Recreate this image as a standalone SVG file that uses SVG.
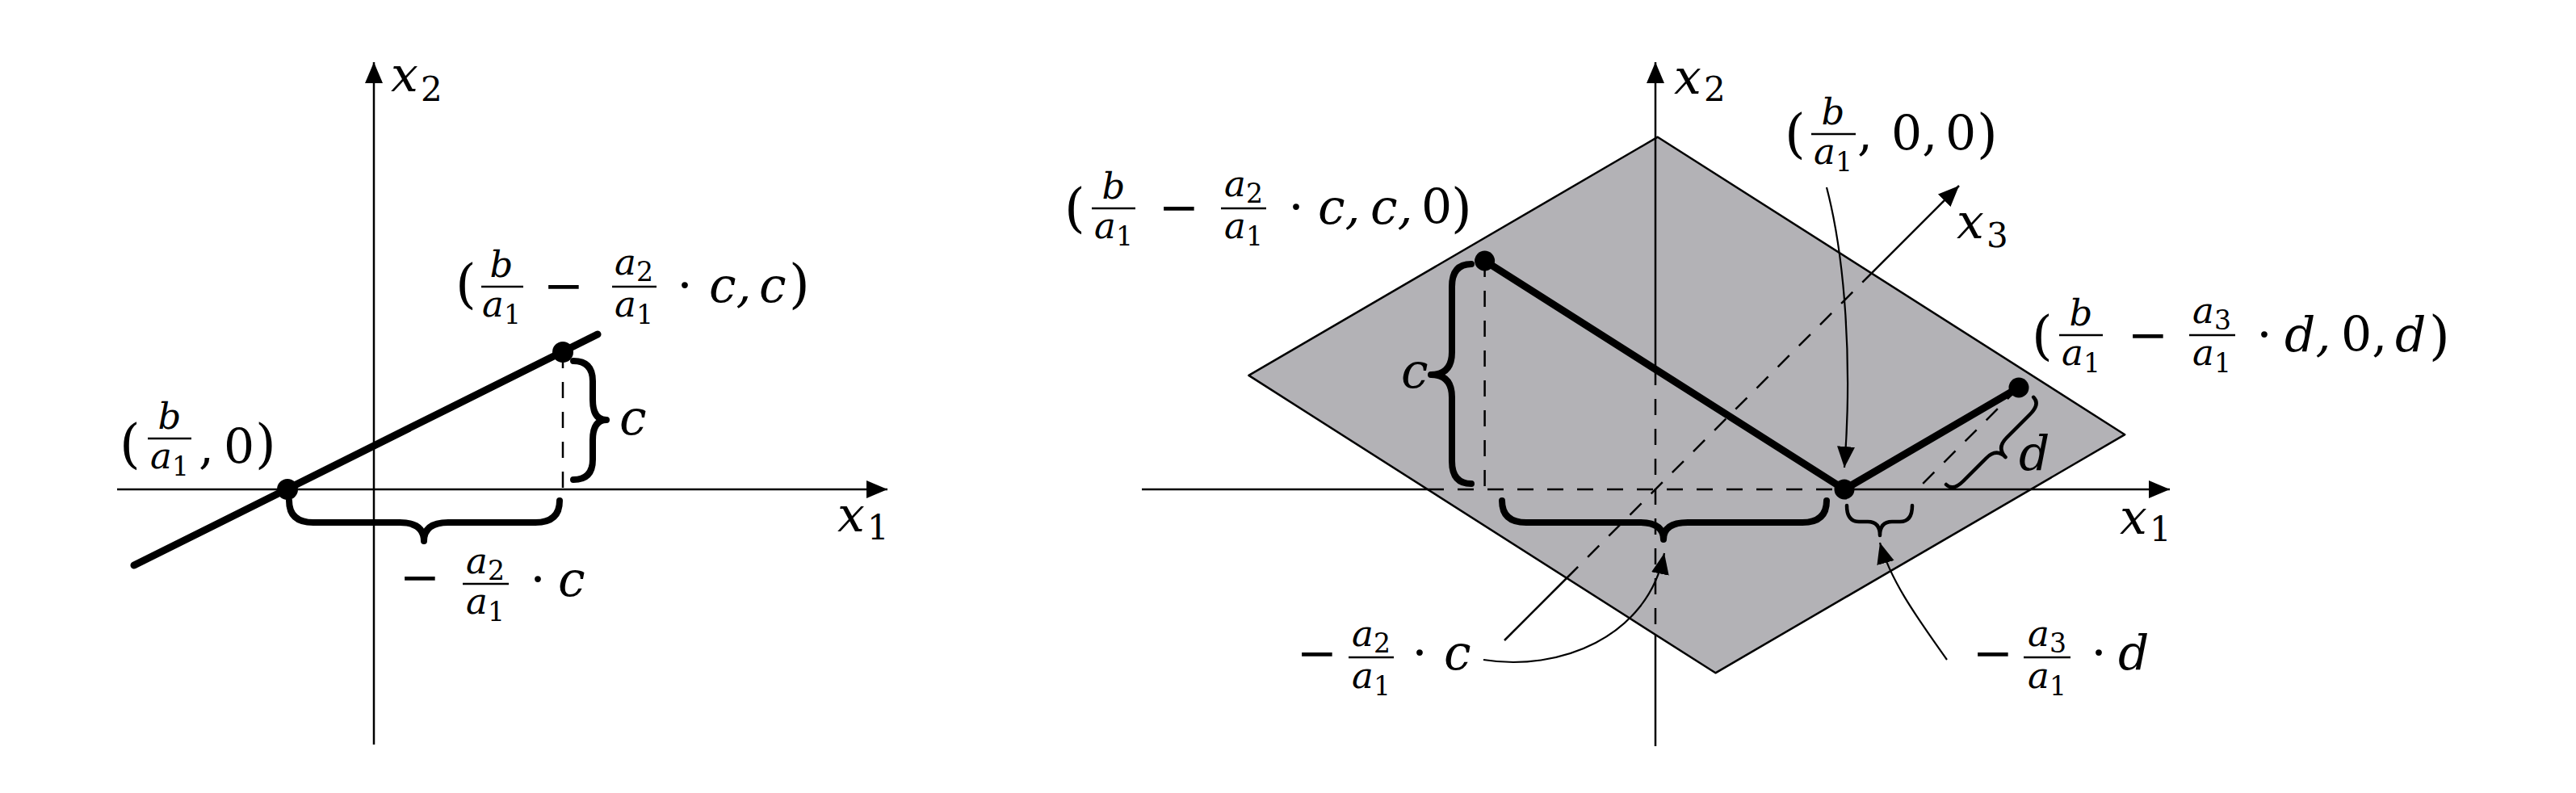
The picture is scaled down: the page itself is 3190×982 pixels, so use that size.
<svg xmlns="http://www.w3.org/2000/svg" width="3190" height="982" viewBox="0 0 3190 982">
<style>
text{font-family:'DejaVu Serif','Liberation Serif',serif;fill:#000}
.M{font-size:60px}
.P{font-size:66px}
.F{font-size:45px}
.S{font-size:42px}
.s{font-size:33px}
.i{font-style:italic}
.ax{stroke:#000;stroke-width:2.5;fill:none}
.dash{stroke:#000;stroke-width:2.5;fill:none;stroke-dasharray:20 17}
.thick{stroke:#000;stroke-width:9;fill:none;stroke-linecap:round}
.br{stroke:#000;stroke-width:8;fill:none;stroke-linecap:round;stroke-linejoin:round}
.brs{stroke:#000;stroke-width:4.5;fill:none;stroke-linecap:round;stroke-linejoin:round}
.cv{stroke:#000;stroke-width:2.2;fill:none}
.bar{stroke:#000;stroke-width:2.5}
</style>
<defs>
<marker id="ah" markerUnits="userSpaceOnUse" markerWidth="28" markerHeight="24" refX="26" refY="11" orient="auto">
<path d="M0,0 L26,11 L0,22 z" fill="#000"/>
</marker>
</defs>
<rect width="3190" height="982" fill="#fff"/>

<g id="plane">
<polygon points="2052.8,169.7 2631.3,538.2 2124.4,833.3 1546.4,464.9" fill="#b3b2b6" stroke="#000" stroke-width="2.5" stroke-linejoin="round"/>
</g>

<g id="connectors">
<line class="ax" x1="463" y1="922" x2="463" y2="77" marker-end="url(#ah)"/>
<line class="ax" x1="145" y1="606" x2="1099" y2="606" marker-end="url(#ah)"/>
<line class="dash" x1="697" y1="436" x2="697" y2="606"/>
<line class="thick" x1="166" y1="700" x2="740" y2="414"/>
<path class="br" d="M358,620 Q358,647 388,647 L495,647 Q525,647 525,670 Q525,647 555,647 L663,647 Q693,647 693,620"/>
<path class="br" stroke-width="7" d="M710,447 Q734,447 734,472 L734,495 Q734,520 751,520 Q734,520 734,545 L734,569 Q734,594 710,594"/>

<line class="ax" x1="1414" y1="606" x2="1768" y2="606"/>
<line class="dash" x1="1768" y1="606" x2="2284" y2="606"/>
<line class="ax" x1="2284" y1="606" x2="2687" y2="606" marker-end="url(#ah)"/>
<line class="ax" x1="2050" y1="457" x2="2050" y2="77" marker-end="url(#ah)"/>
<line class="dash" x1="2050" y1="457" x2="2050" y2="786"/>
<line class="ax" x1="2050" y1="786" x2="2050" y2="924"/>
<line class="ax" x1="1863" y1="793" x2="1940" y2="716"/>
<line class="dash" x1="1940" y1="716" x2="2317.6" y2="338.4"/>
<line class="ax" x1="2317.6" y1="338.4" x2="2426" y2="230" marker-end="url(#ah)"/>
<line class="dash" x1="1838.6" y1="323" x2="1838.6" y2="606"/>
<line class="dash" x1="2500" y1="480" x2="2374" y2="606"/>
<polyline class="thick" points="1838.6,323 2284,606 2500,480" stroke-linejoin="round"/>
<path class="br" d="M1822,327 Q1798,327 1798,355 L1798,436 Q1798,464 1772,464 Q1798,464 1798,492 L1798,571 Q1798,599 1822,599"/>
<path class="br" d="M1860,620 Q1860,647 1890,647 L2030,647 Q2060,647 2060,668 Q2060,647 2090,647 L2232,647 Q2262,647 2262,620"/>
<path class="brs" d="M2287,626 Q2287,646 2302,646 L2313,646 Q2328,646 2328,663 Q2328,646 2343,646 L2353,646 Q2368,646 2368,626"/>
<path class="brs" stroke-width="5" transform="translate(2410,600) rotate(-45)" d="M0,0 Q0,12 18,12 L58,12 Q76,12 76,28 Q76,12 94,12 L135,12 Q153,12 153,0"/>
<path class="cv" d="M2262,232 C2285,320 2294,450 2284,579" marker-end="url(#ah)"/>
<path class="cv" d="M1837,817 C1930,832 2040,790 2061,685" marker-end="url(#ah)"/>
<path class="cv" d="M2411,817 C2378,770 2342,722 2328,672" marker-end="url(#ah)"/>
</g>

<g id="points">
<circle cx="356" cy="606" r="13"/>
<circle cx="697" cy="436" r="13"/>
<circle cx="1838.6" cy="323" r="12.5"/>
<circle cx="2284" cy="606" r="12.5"/>
<circle cx="2500" cy="480" r="12.5"/>
</g>

<g id="axis-labels">
<text class="M i" x="484" y="113">x</text><text class="S" x="521" y="125">2</text>
<text class="M i" x="1037" y="658">x</text><text class="S" x="1074" y="668">1</text>
<text class="M i" x="2073" y="116">x</text><text class="S" x="2110" y="125">2</text>
<text class="M i" x="2625" y="661">x</text><text class="S" x="2662" y="670">1</text>
<text class="M i" x="2423" y="295">x</text><text class="S" x="2460" y="306">3</text>
</g>

<g id="label-b-a1-0">
<text class="P" x="148" y="572">(</text>
<text class="F i" x="210" y="531" text-anchor="middle">b</text>
<line class="bar" x1="183" y1="543" x2="237" y2="543"/>
<text class="F" x="210" y="580" text-anchor="middle"><tspan class="i">a</tspan><tspan class="s" dy="9">1</tspan></text>
<text class="M" x="246" y="574">,</text>
<text class="M" x="277" y="574">0</text>
<text class="P" x="316" y="572">)</text>
</g>

<g id="label-point-c">
<text class="P" x="564" y="374">(</text>
<text class="F i" x="621" y="343" text-anchor="middle">b</text>
<line class="bar" x1="596" y1="355" x2="648" y2="355"/>
<text class="F" x="621" y="392" text-anchor="middle"><tspan class="i">a</tspan><tspan class="s" dy="9">1</tspan></text>
<text class="M" x="698" y="374" text-anchor="middle">−</text>
<text class="F" x="785" y="340" text-anchor="middle"><tspan class="i">a</tspan><tspan class="s" dy="8">2</tspan></text>
<line class="bar" x1="758" y1="355" x2="813" y2="355"/>
<text class="F" x="785" y="392" text-anchor="middle"><tspan class="i">a</tspan><tspan class="s" dy="9">1</tspan></text>
<text class="M" x="848" y="374" text-anchor="middle">·</text>
<text class="M i" x="878" y="374">c,</text>
<text class="M i" x="940" y="374">c</text>
<text class="P" x="977" y="374">)</text>
</g>

<g id="label-left-dx">
<text class="M" x="520" y="735" text-anchor="middle">−</text>
<text class="F" x="601" y="710" text-anchor="middle"><tspan class="i">a</tspan><tspan class="s" dy="8">2</tspan></text>
<line class="bar" x1="573" y1="723" x2="630" y2="723"/>
<text class="F" x="601" y="760" text-anchor="middle"><tspan class="i">a</tspan><tspan class="s" dy="9">1</tspan></text>
<text class="M" x="666" y="738" text-anchor="middle">·</text>
<text class="M i" x="691" y="738">c</text>
</g>

<g id="label-left-c">
<text class="M i" x="767" y="538">c</text>
</g>

<g id="label-point-cc0">
<text class="P" x="1318" y="280">(</text>
<text class="F i" x="1379" y="246" text-anchor="middle">b</text>
<line class="bar" x1="1352" y1="258" x2="1406" y2="258"/>
<text class="F" x="1379" y="295" text-anchor="middle"><tspan class="i">a</tspan><tspan class="s" dy="9">1</tspan></text>
<text class="M" x="1460" y="277" text-anchor="middle">−</text>
<text class="F" x="1540" y="243" text-anchor="middle"><tspan class="i">a</tspan><tspan class="s" dy="8">2</tspan></text>
<line class="bar" x1="1512" y1="258" x2="1568" y2="258"/>
<text class="F" x="1540" y="295" text-anchor="middle"><tspan class="i">a</tspan><tspan class="s" dy="9">1</tspan></text>
<text class="M" x="1605" y="277" text-anchor="middle">·</text>
<text class="M i" x="1632" y="277">c,</text>
<text class="M i" x="1697" y="277">c,</text>
<text class="M" x="1760" y="277">0</text>
<text class="P" x="1797" y="280">)</text>
</g>

<g id="label-point-b00">
<text class="P" x="2210" y="188">(</text>
<text class="F i" x="2270" y="154" text-anchor="middle">b</text>
<line class="bar" x1="2243" y1="166" x2="2298" y2="166"/>
<text class="F" x="2270" y="203" text-anchor="middle"><tspan class="i">a</tspan><tspan class="s" dy="9">1</tspan></text>
<text class="M" x="2300" y="186">,</text>
<text class="M" x="2342" y="186">0,</text>
<text class="M" x="2409" y="186">0</text>
<text class="P" x="2448" y="188">)</text>
</g>

<g id="label-point-d0d">
<text class="P" x="2516" y="438">(</text>
<text class="F i" x="2577" y="403" text-anchor="middle">b</text>
<line class="bar" x1="2550" y1="415" x2="2604" y2="415"/>
<text class="F" x="2577" y="452" text-anchor="middle"><tspan class="i">a</tspan><tspan class="s" dy="9">1</tspan></text>
<text class="M" x="2660" y="435" text-anchor="middle">−</text>
<text class="F" x="2739" y="400" text-anchor="middle"><tspan class="i">a</tspan><tspan class="s" dy="8">3</tspan></text>
<line class="bar" x1="2711" y1="415" x2="2768" y2="415"/>
<text class="F" x="2739" y="452" text-anchor="middle"><tspan class="i">a</tspan><tspan class="s" dy="9">1</tspan></text>
<text class="M" x="2804" y="435" text-anchor="middle">·</text>
<text class="M i" x="2829" y="435">d,</text>
<text class="M" x="2899" y="435">0,</text>
<text class="M i" x="2966" y="435">d</text>
<text class="P" x="3008" y="438">)</text>
</g>

<g id="label-mid-c">
<text class="M i" x="1735" y="480">c</text>
</g>

<g id="label-mid-d">
<text class="M i" x="2500" y="582">d</text>
</g>

<g id="label-mid-dx-c">
<text class="M" x="1631" y="829" text-anchor="middle">−</text>
<text class="F" x="1698" y="800" text-anchor="middle"><tspan class="i">a</tspan><tspan class="s" dy="8">2</tspan></text>
<line class="bar" x1="1670" y1="814" x2="1726" y2="814"/>
<text class="F" x="1698" y="852" text-anchor="middle"><tspan class="i">a</tspan><tspan class="s" dy="9">1</tspan></text>
<text class="M" x="1758" y="829" text-anchor="middle">·</text>
<text class="M i" x="1788" y="829">c</text>
</g>

<g id="label-mid-dx-d">
<text class="M" x="2468" y="829" text-anchor="middle">−</text>
<text class="F" x="2535" y="800" text-anchor="middle"><tspan class="i">a</tspan><tspan class="s" dy="8">3</tspan></text>
<line class="bar" x1="2506" y1="814" x2="2564" y2="814"/>
<text class="F" x="2535" y="852" text-anchor="middle"><tspan class="i">a</tspan><tspan class="s" dy="9">1</tspan></text>
<text class="M" x="2599" y="829" text-anchor="middle">·</text>
<text class="M i" x="2623" y="829">d</text>
</g>
</svg>
